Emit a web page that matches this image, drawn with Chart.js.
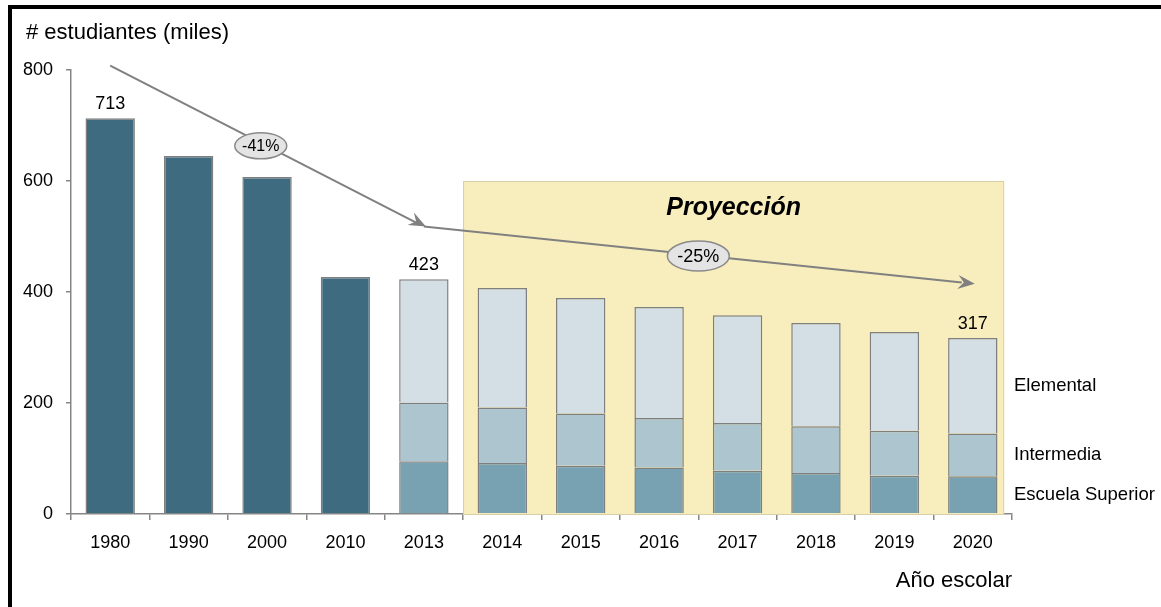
<!DOCTYPE html>
<html lang="es">
<head>
<meta charset="utf-8">
<title>Estudiantes por año escolar</title>
<script src="https://cdn.jsdelivr.net/npm/chart.js@4.4.1/dist/chart.umd.min.js"></script>
<style>
  html, body { margin: 0; padding: 0; background: #fff; }
  #wrap { position: relative; width: 1161px; height: 607px; }
  #frame {
    position: absolute; left: 8px; top: 5px; right: 0; bottom: 0;
    border-top: 4px solid #000; border-left: 4px solid #000;
    pointer-events: none;
  }
</style>
</head>
<body>
<div id="wrap">
  <canvas id="chart" width="1161" height="607"></canvas>
  <div id="frame"></div>
</div>
<script>
// --- DATA ---
const years = ['1980', '1990', '2000', '2010', '2013', '2014', '2015', '2016', '2017', '2018', '2019', '2020'];
const historico = [713, 645, 607, 427, null, null, null, null, null, null, null, null];
const escuelaSuperior = [null, null, null, null, 95, 92, 87, 84, 78, 74, 69, 68];
const intermedia = [null, null, null, null, 106, 100, 94, 89, 86, 84, 81, 77];
const elemental = [null, null, null, null, 222, 215, 208, 200, 194, 186, 178, 172];
const yTicks = [0, 200, 400, 600, 800];
const labelledYears = ['1980', '2013', '2020'];

// --- ANNOTATIONS (data coordinates: category index, value) ---
const projectionBox = { from: 4.5, to: 11.4, top: 600, title: 'Proyección', titleValue: 552 };
const trendArrows = [
    { from: [0, 808], to: [4, 518], startYear: '1980', endYear: '2013', at: 0.48, dy: 3, font: 16, rx: 26, ry: 13 },
    { from: [4, 518], to: [11, 415], startYear: '2013', endYear: '2020', at: 0.5, dy: 1, font: 18, rx: 31, ry: 15 }
];

const FONT = "'Liberation Sans', Arial, sans-serif";
const GREY = '#868686';

function totalAt(i) {
    return (historico[i] || 0) + (escuelaSuperior[i] || 0) + (intermedia[i] || 0) + (elemental[i] || 0);
}

function drawArrowHead(ctx, x0, y0, x1, y1) {
    const ang = Math.atan2(y1 - y0, x1 - x0);
    const len = 17, half = 7, notch = 11;
    ctx.save();
    ctx.translate(x1, y1);
    ctx.rotate(ang);
    ctx.beginPath();
    ctx.moveTo(0, 0);
    ctx.lineTo(-len, -half);
    ctx.lineTo(-notch, 0);
    ctx.lineTo(-len, half);
    ctx.closePath();
    ctx.fill();
    ctx.restore();
}

const overlay = {
    id: 'overlay',
    beforeDatasetsDraw(chart) {
        const { ctx, scales: { x, y } } = chart;
        const left = x.getPixelForValue(projectionBox.from);
        const right = x.getPixelForValue(projectionBox.to);
        const top = y.getPixelForValue(projectionBox.top);
        const bottom = y.getPixelForValue(0);
        ctx.save();
        ctx.fillStyle = '#F8EEBD';
        ctx.fillRect(left, top, right - left, bottom - top);
        ctx.strokeStyle = '#D8CFA6';
        ctx.lineWidth = 1;
        ctx.strokeRect(left + 0.5, top + 0.5, right - left - 1, bottom - top);
        ctx.fillStyle = '#000';
        ctx.font = `italic bold 25px ${FONT}`;
        ctx.textAlign = 'center';
        ctx.textBaseline = 'middle';
        ctx.fillText(projectionBox.title, (left + right) / 2, y.getPixelForValue(projectionBox.titleValue));
        ctx.restore();
    },
    afterDatasetsDraw(chart) {
        const { ctx, chartArea, scales: { x, y } } = chart;
        ctx.save();

        // axis title (top left)
        ctx.fillStyle = '#000';
        ctx.font = `22px ${FONT}`;
        ctx.textAlign = 'left';
        ctx.textBaseline = 'middle';
        ctx.fillText('# estudiantes (miles)', 26, 33);

        // totals above selected bars
        ctx.font = `18px ${FONT}`;
        ctx.textAlign = 'center';
        ctx.textBaseline = 'alphabetic';
        labelledYears.forEach(yr => {
            const i = years.indexOf(yr);
            const t = totalAt(i);
            ctx.fillText(String(t), x.getPixelForValue(i), y.getPixelForValue(t) - 9);
        });

        // series names next to the last bar
        const last = years.length - 1;
        ctx.font = `18.5px ${FONT}`;
        ctx.textAlign = 'left';
        ctx.textBaseline = 'middle';
        let base = 0;
        [[escuelaSuperior, 'Escuela Superior'], [intermedia, 'Intermedia'], [elemental, 'Elemental']].forEach(([arr, name]) => {
            const v = arr[last];
            ctx.fillText(name, chartArea.right + 2, y.getPixelForValue(base + v / 2));
            base += v;
        });

        // trend arrows
        ctx.strokeStyle = '#808080';
        ctx.fillStyle = '#808080';
        ctx.lineWidth = 2;
        trendArrows.forEach(a => {
            const x0 = x.getPixelForValue(a.from[0]), y0 = y.getPixelForValue(a.from[1]);
            const x1 = x.getPixelForValue(a.to[0]), y1 = y.getPixelForValue(a.to[1]);
            ctx.beginPath();
            ctx.moveTo(x0, y0);
            ctx.lineTo(x1 - (x1 - x0) * 0.02, y1 - (y1 - y0) * 0.02);
            ctx.stroke();
            drawArrowHead(ctx, x0, y0, x1 + 2, y1);
        });
        trendArrows.forEach(a => {
            const x0 = x.getPixelForValue(a.from[0]), y0 = y.getPixelForValue(a.from[1]);
            const x1 = x.getPixelForValue(a.to[0]), y1 = y.getPixelForValue(a.to[1]);
            const cx = x0 + (x1 - x0) * a.at, cy = y0 + (y1 - y0) * a.at + a.dy;
            const s = totalAt(years.indexOf(a.startYear));
            const e = totalAt(years.indexOf(a.endYear));
            const pct = Math.round((e / s - 1) * 100);
            ctx.beginPath();
            ctx.ellipse(cx, cy, a.rx, a.ry, 0, 0, Math.PI * 2);
            ctx.fillStyle = '#E4E4E4';
            ctx.fill();
            ctx.strokeStyle = '#8A8A8A';
            ctx.lineWidth = 1.5;
            ctx.stroke();
            ctx.fillStyle = '#000';
            ctx.font = `${a.font}px ${FONT}`;
            ctx.textAlign = 'center';
            ctx.textBaseline = 'middle';
            ctx.fillText(pct + '%', cx, cy + 1);
        });
        ctx.restore();
    }
};

const barStyle = { borderColor: '#7F7F7F', borderWidth: 1.5, borderSkipped: 'bottom', stack: 'total' };

new Chart(document.getElementById('chart'), {
    type: 'bar',
    data: {
        labels: years,
        datasets: [
            { label: 'Histórico', data: historico, backgroundColor: '#3E6B80', ...barStyle },
            { label: 'Escuela Superior', data: escuelaSuperior, backgroundColor: '#78A2B2', ...barStyle },
            { label: 'Intermedia', data: intermedia, backgroundColor: '#ACC5CF', ...barStyle },
            { label: 'Elemental', data: elemental, backgroundColor: '#D3DFE5', ...barStyle }
        ]
    },
    options: {
        responsive: false,
        animation: false,
        devicePixelRatio: 1,
        layout: { padding: { top: 70, right: 149, left: 0, bottom: 0 } },
        datasets: { bar: { barPercentage: 0.63, categoryPercentage: 1 } },
        plugins: { legend: { display: false }, tooltip: { enabled: false } },
        scales: {
            x: {
                stacked: true,
                offset: true,
                grid: { offset: true, drawOnChartArea: false, color: GREY, lineWidth: 1.5, tickLength: 6 },
                border: { color: GREY, width: 1.5 },
                ticks: { color: '#000', font: { family: FONT, size: 18 }, padding: 12, maxRotation: 0 },
                title: {
                    display: true, text: 'Año escolar', align: 'end', color: '#000',
                    font: { family: FONT, size: 22 }, padding: { top: 0, bottom: 13 }
                },
                afterFit(scale) { scale.height = 93; }
            },
            y: {
                stacked: true,
                min: 0,
                max: 800,
                afterBuildTicks(scale) { scale.ticks = yTicks.map(v => ({ value: v })); },
                grid: { drawOnChartArea: false, color: GREY, lineWidth: 1.5, tickLength: 5 },
                border: { color: GREY, width: 1.5 },
                ticks: { color: '#000', font: { family: FONT, size: 18 }, padding: 13 },
                afterFit(scale) { scale.width = 71; }
            }
        }
    },
    plugins: [overlay]
});
</script>
</body>
</html>
